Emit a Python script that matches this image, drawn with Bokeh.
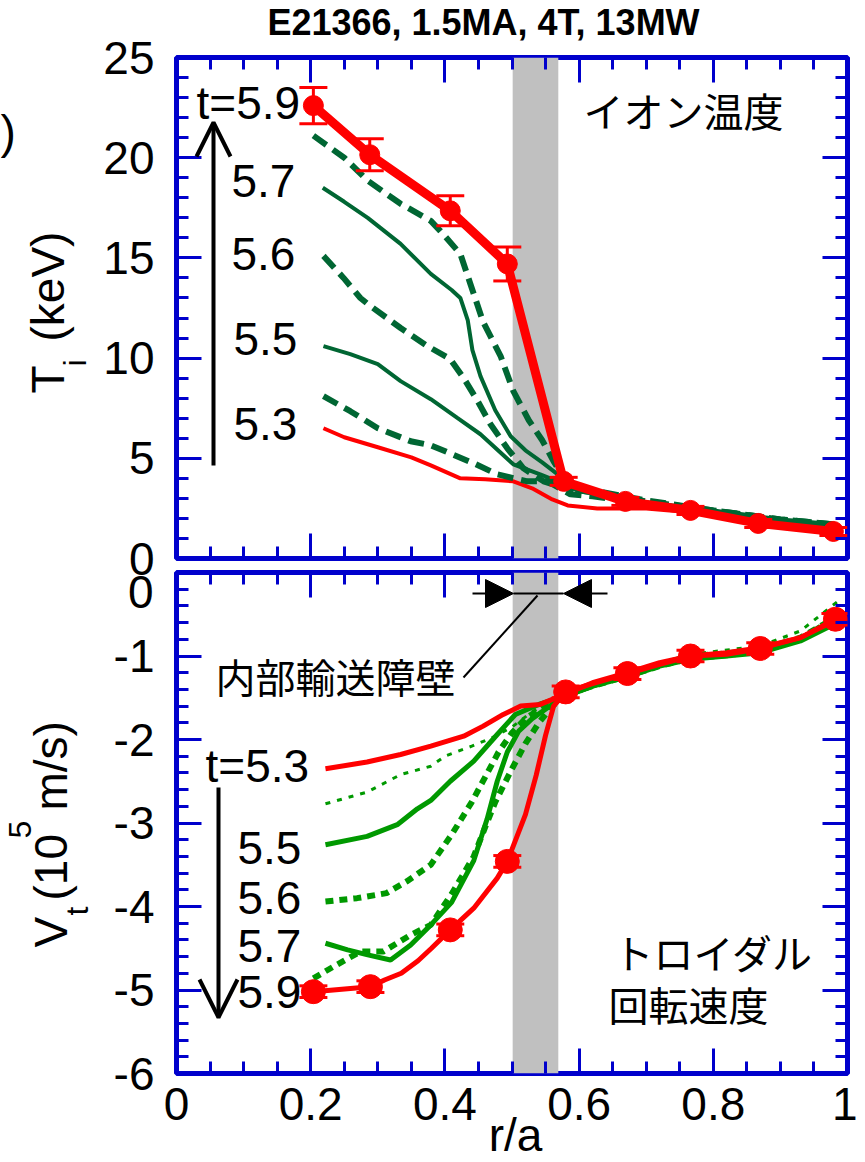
from math import pi
from bokeh.plotting import figure
from bokeh.models import (Range1d, FixedTicker, Label, Arrow, OpenHead, NormalHead,
                          TeeHead, Whisker, ColumnDataSource, BoxAnnotation, LinearAxis)
from bokeh.layouts import column
from bokeh.embed import file_html
from bokeh.resources import INLINE

# ---------------- data ----------------
title_text = "E21366, 1.5MA, 4T, 13MW"
x_ticks = [0, 0.2, 0.4, 0.6, 0.8, 1]
x_tick_labels = ["0", "0.2", "0.4", "0.6", "0.8", "1"]
ti_ticks = [0, 5, 10, 15, 20, 25]
ti_tick_labels = ["0", "5", "10", "15", "20", "25"]
vt_ticks = [-6, -5, -4, -3, -2, -1, 0]
vt_tick_labels = ["-6", "-5", "-4", "-3", "-2", "-1", ""]
vt_zero_label = "0"
itb_left, itb_right = 0.501, 0.569

# Ion temperature (keV)
ti59_x = [0.204, 0.288, 0.408, 0.493, 0.577, 0.669, 0.766, 0.867, 0.979]
ti59_y = [22.6, 20.15, 17.35, 14.7, 3.85, 2.85, 2.4, 1.75, 1.35]
ti59_err = [0.9, 0.8, 0.75, 0.85, 0.2, 0.2, 0.2, 0.2, 0.2]

ti58_x = [0.204, 0.25, 0.285, 0.334, 0.379, 0.393, 0.423, 0.438, 0.457, 0.483, 0.502, 0.525, 0.545, 0.562, 0.58, 0.62, 0.7, 0.8, 0.9, 0.98]
ti58_y = [21.1, 20.0, 18.85, 17.7, 16.85, 16.35, 15.2, 13.7, 11.8, 10.1, 8.35, 6.9, 5.9, 4.85, 3.9, 3.4, 2.9, 2.4, 1.95, 1.7]

ti57_x = [0.218, 0.25, 0.285, 0.334, 0.379, 0.41, 0.423, 0.434, 0.441, 0.453, 0.475, 0.498, 0.52, 0.545, 0.572, 0.6, 0.7, 0.8, 0.9, 0.98]
ti57_y = [18.5, 17.8, 17.0, 15.7, 14.2, 13.4, 13.0, 11.9, 10.4, 9.1, 7.4, 6.1, 5.4, 4.8, 4.1, 3.4, 2.8, 2.35, 1.9, 1.55]

ti56_x = [0.219, 0.249, 0.274, 0.285, 0.334, 0.374, 0.408, 0.428, 0.449, 0.468, 0.493, 0.517, 0.547, 0.58, 0.62, 0.7, 0.8, 0.9, 0.98]
ti56_y = [15.1, 14.0, 13.0, 12.7, 11.5, 10.6, 9.95, 9.0, 7.85, 6.7, 5.5, 4.5, 3.85, 3.5, 3.3, 2.85, 2.4, 1.95, 1.7]

ti55_x = [0.219, 0.259, 0.3, 0.334, 0.379, 0.419, 0.453, 0.502, 0.542, 0.568, 0.6, 0.7, 0.8, 0.9, 0.98]
ti55_y = [10.6, 10.2, 9.7, 8.85, 7.95, 7.0, 6.2, 4.7, 4.2, 3.85, 3.35, 2.8, 2.35, 1.9, 1.6]

ti54_x = [0.219, 0.259, 0.3, 0.349, 0.379, 0.443, 0.478, 0.523, 0.553, 0.587, 0.62, 0.7, 0.8, 0.9, 0.98]
ti54_y = [8.1, 7.35, 6.5, 5.85, 5.65, 4.75, 4.2, 3.85, 3.85, 3.2, 3.1, 2.75, 2.35, 1.9, 1.65]

ti53_x = [0.219, 0.25, 0.3, 0.35, 0.379, 0.423, 0.46, 0.502, 0.53, 0.56, 0.583, 0.627, 0.7, 0.77, 0.87, 0.98]
ti53_y = [6.5, 6.05, 5.55, 5.05, 4.65, 4.0, 3.95, 3.85, 3.5, 2.95, 2.65, 2.5, 2.5, 2.3, 1.75, 1.35]

ti_time_labels = ["t=5.9", "5.7", "5.6", "5.5", "5.3"]

# Toroidal rotation velocity (1e5 m/s)
vt59_x = [0.204, 0.289, 0.31, 0.335, 0.36, 0.38, 0.408, 0.443, 0.478, 0.493, 0.52, 0.536, 0.55, 0.562, 0.58, 0.62, 0.672, 0.72, 0.766, 0.82, 0.87, 0.93, 0.982]
vt59_y = [-5.02, -4.96, -4.88, -4.8, -4.65, -4.5, -4.28, -4.02, -3.66, -3.46, -2.9, -2.43, -1.95, -1.6, -1.43, -1.33, -1.21, -1.1, -1.0, -0.98, -0.91, -0.78, -0.56]
vt59_mx = [0.204, 0.289, 0.408, 0.493, 0.58, 0.672, 0.766, 0.87, 0.982]
vt59_my = [-5.02, -4.96, -4.28, -3.46, -1.43, -1.21, -1.0, -0.91, -0.56]
vt59_err = [0.07, 0.07, 0.07, 0.07, 0.07, 0.07, 0.07, 0.07, 0.07]

vt58_x = [0.204, 0.234, 0.274, 0.308, 0.349, 0.379, 0.41, 0.443, 0.46, 0.475, 0.5, 0.52, 0.54, 0.56, 0.58, 0.62, 0.672, 0.72, 0.766, 0.82, 0.87, 0.93, 0.98]
vt58_y = [-4.86, -4.72, -4.54, -4.54, -4.34, -4.22, -3.85, -3.4, -3.05, -2.75, -2.35, -2.05, -1.8, -1.6, -1.47, -1.36, -1.24, -1.12, -1.03, -0.99, -0.94, -0.8, -0.55]

vt57_x = [0.222, 0.255, 0.285, 0.319, 0.349, 0.379, 0.41, 0.443, 0.463, 0.478, 0.493, 0.51, 0.53, 0.56, 0.58, 0.62, 0.672, 0.72, 0.766, 0.82, 0.87, 0.93, 0.98]
vt57_y = [-4.44, -4.52, -4.58, -4.64, -4.46, -4.22, -3.95, -3.45, -2.95, -2.5, -2.15, -1.9, -1.75, -1.58, -1.48, -1.36, -1.25, -1.12, -1.04, -1.0, -0.96, -0.82, -0.62]

vt56_x = [0.222, 0.269, 0.313, 0.343, 0.379, 0.41, 0.44, 0.46, 0.48, 0.5, 0.52, 0.545, 0.575, 0.62, 0.672, 0.72, 0.766, 0.82, 0.87, 0.93, 0.98]
vt56_y = [-3.94, -3.9, -3.84, -3.7, -3.5, -3.14, -2.75, -2.45, -2.15, -1.92, -1.75, -1.62, -1.5, -1.35, -1.22, -1.1, -1.0, -0.97, -0.92, -0.78, -0.55]

vt55_x = [0.222, 0.284, 0.329, 0.359, 0.379, 0.408, 0.443, 0.478, 0.505, 0.54, 0.57, 0.62, 0.672, 0.72, 0.766, 0.82, 0.87, 0.93, 0.98]
vt55_y = [-3.26, -3.16, -3.02, -2.83, -2.73, -2.5, -2.26, -1.94, -1.7, -1.58, -1.5, -1.36, -1.23, -1.1, -1.02, -0.98, -0.95, -0.8, -0.6]

vt54_x = [0.222, 0.284, 0.334, 0.379, 0.4, 0.44, 0.47, 0.5, 0.528, 0.56, 0.6, 0.672, 0.766, 0.87, 0.93, 0.985]
vt54_y = [-2.77, -2.63, -2.42, -2.32, -2.2, -2.08, -1.98, -1.85, -1.68, -1.52, -1.38, -1.2, -0.98, -0.88, -0.7, -0.35]

vt53_x = [0.222, 0.284, 0.334, 0.379, 0.428, 0.457, 0.487, 0.513, 0.542, 0.572, 0.62, 0.672, 0.72, 0.766, 0.82, 0.87, 0.93, 0.98]
vt53_y = [-2.35, -2.27, -2.18, -2.08, -1.96, -1.84, -1.7, -1.6, -1.58, -1.48, -1.32, -1.2, -1.08, -1.0, -0.96, -0.9, -0.78, -0.58]

vt_time_labels = ["t=5.3", "5.5", "5.6", "5.7", "5.9"]

# ---------------- styles ----------------
FONT = "Liberation Sans"
JP = "Noto Sans CJK JP"
BLUE = "#0000cc"
RED = "#ff0000"
DKGREEN = "#006633"
GREEN = "#009900"
GRAY = "#c0c0c0"

W = 857
H1 = 590
OVERLAP = 24
H2 = 594
HTOT = H1 + H2 - OVERLAP

# frame geometry in page pixels
FL, FR = 176.0, 847.0
T_TOP, T_BOT = 57.0, 558.0
B_TOP, B_BOT = 572.0, 1073.0
S2 = H1 - OVERLAP


def top_xy(px, py):
    return (px - FL) / (FR - FL), (T_BOT - py) / (T_BOT - T_TOP) * 25.0


def bot_xy(px, py):
    return (px - FL) / (FR - FL), -6.0 + (B_BOT - py) / (B_BOT - B_TOP) * 6.0


def style_axis(ax, ticks, minor, labels=None, standoff=0):
    ax.ticker = FixedTicker(ticks=ticks, minor_ticks=minor)
    ax.axis_line_color = None
    ax.major_tick_line_color = BLUE
    ax.major_tick_line_width = 3
    ax.minor_tick_line_color = BLUE
    ax.minor_tick_line_width = 3
    ax.major_tick_in = 25
    ax.major_tick_out = 0
    ax.minor_tick_in = 12
    ax.minor_tick_out = 0
    if labels is not None:
        ax.major_label_text_font = FONT
        ax.major_label_text_font_size = "46px"
        ax.major_label_text_color = "black"
        ax.major_label_standoff = standoff
        ax.major_label_overrides = dict(zip(ticks, labels))
    else:
        ax.major_label_text_font_size = "0px"
        ax.major_label_text_alpha = 0
        ax.major_label_standoff = 0


x_minor = [round(i * 0.05, 2) for i in range(21)]
ti_minor = list(range(0, 26))
vt_minor = [round(-6 + 0.2 * i, 1) for i in range(31)]

# ---------------- top panel ----------------
p1 = figure(width=W, height=H1, x_range=Range1d(0, 1), y_range=Range1d(0, 25),
            output_backend="svg", toolbar_location=None,
            min_border_left=int(FL), min_border_right=int(W - FR), min_border_top=int(T_TOP),
            min_border_bottom=int(H1 - T_BOT))
p1.grid.visible = False
p1.outline_line_color = BLUE
p1.outline_line_width = 5
p1.add_layout(LinearAxis(), "above")
p1.add_layout(LinearAxis(), "right")
style_axis(p1.below[0], x_ticks, x_minor)
style_axis(p1.above[0], x_ticks, x_minor)
style_axis(p1.left[0], ti_ticks, ti_minor, ti_tick_labels, standoff=22)
style_axis(p1.right[0], ti_ticks, ti_minor)

p1.add_layout(BoxAnnotation(left=itb_left, right=itb_right, fill_color=GRAY,
                            fill_alpha=1, line_color=None, level="underlay"))

p1.line(ti53_x, ti53_y, line_color=RED, line_width=4)
p1.line(ti54_x, ti54_y, line_color=DKGREEN, line_width=6, line_dash="16 8")
p1.line(ti55_x, ti55_y, line_color=DKGREEN, line_width=4)
p1.line(ti56_x, ti56_y, line_color=DKGREEN, line_width=6, line_dash="16 8")
p1.line(ti57_x, ti57_y, line_color=DKGREEN, line_width=4)
p1.line(ti58_x, ti58_y, line_color=DKGREEN, line_width=6, line_dash="16 8")
p1.line(ti59_x, ti59_y, line_color=RED, line_width=9)
p1.scatter(ti59_x, ti59_y, size=20, color=RED)
src_ti = ColumnDataSource(dict(
    x=ti59_x,
    upper=[y + e for y, e in zip(ti59_y, ti59_err)],
    lower=[y - e for y, e in zip(ti59_y, ti59_err)]))
p1.add_layout(Whisker(base="x", upper="upper", lower="lower", source=src_ti,
                      dimension="height", line_color=RED, line_width=3,
                      upper_head=TeeHead(size=28, line_color=RED, line_width=3),
                      lower_head=TeeHead(size=28, line_color=RED, line_width=3),
                      level="annotation"))

ax0, ay0 = top_xy(213, 465)
ax1, ay1 = top_xy(213, 122)
p1.add_layout(Arrow(end=OpenHead(size=34, line_width=4, line_color="black"),
                    x_start=ax0, y_start=ay0, x_end=ax1, y_end=ay1,
                    line_width=4, line_color="black"))

# ---------------- bottom panel ----------------
p2 = figure(width=W, height=H2, x_range=Range1d(0, 1), y_range=Range1d(-6, 0),
            output_backend="svg", toolbar_location=None,
            min_border_left=int(FL), min_border_right=int(W - FR),
            min_border_top=int(B_TOP - S2), min_border_bottom=int(S2 + H2 - B_BOT),
            margin=(-OVERLAP, 0, 0, 0))
p2.border_fill_alpha = 0
p2.grid.visible = False
p2.outline_line_color = BLUE
p2.outline_line_width = 5
p2.add_layout(LinearAxis(), "above")
p2.add_layout(LinearAxis(), "right")
style_axis(p2.below[0], x_ticks, x_minor, x_tick_labels, standoff=14)
style_axis(p2.above[0], x_ticks, x_minor)
style_axis(p2.left[0], vt_ticks, vt_minor, vt_tick_labels, standoff=22)
style_axis(p2.right[0], vt_ticks, vt_minor)

p2.add_layout(BoxAnnotation(left=itb_left, right=itb_right, fill_color=GRAY,
                            fill_alpha=1, line_color=None, level="underlay"))

p2.line(vt54_x, vt54_y, line_color=GREEN, line_width=3, line_dash="5 7")
p2.line(vt55_x, vt55_y, line_color=GREEN, line_width=5)
p2.line(vt56_x, vt56_y, line_color=GREEN, line_width=6, line_dash="8 6")
p2.line(vt57_x, vt57_y, line_color=GREEN, line_width=5)
p2.line(vt58_x, vt58_y, line_color=GREEN, line_width=6, line_dash="8 6")
p2.line(vt53_x, vt53_y, line_color=RED, line_width=5)
p2.line(vt59_x, vt59_y, line_color=RED, line_width=5)
src_vt = ColumnDataSource(dict(
    x=vt59_mx,
    upper=[y + e for y, e in zip(vt59_my, vt59_err)],
    lower=[y - e for y, e in zip(vt59_my, vt59_err)]))
p2.add_layout(Whisker(base="x", upper="upper", lower="lower", source=src_vt,
                      dimension="height", line_color=RED, line_width=3,
                      upper_head=TeeHead(size=28, line_color=RED, line_width=3),
                      lower_head=TeeHead(size=28, line_color=RED, line_width=3),
                      level="glyph"))
p2.scatter(vt59_mx, vt59_my, size=24, color=RED)

bx0, by0 = bot_xy(218, 787)
bx1, by1 = bot_xy(218, 1017)
p2.add_layout(Arrow(end=OpenHead(size=38, line_width=4, line_color="black"),
                    x_start=bx0, y_start=by0, x_end=bx1, y_end=by1,
                    line_width=4, line_color="black"))

# ITB marker
l0 = bot_xy(472, 593)
l1 = bot_xy(513, 593)
r0 = bot_xy(607, 593)
r1 = bot_xy(563, 593)
p2.add_layout(Arrow(end=NormalHead(size=28, fill_color="black", line_color="black"),
                    x_start=l0[0], y_start=l0[1], x_end=l1[0], y_end=l1[1],
                    line_width=2, line_color="black"))
p2.add_layout(Arrow(end=NormalHead(size=28, fill_color="black", line_color="black"),
                    x_start=r0[0], y_start=r0[1], x_end=r1[0], y_end=r1[1],
                    line_width=2, line_color="black"))
p2.add_layout(Arrow(end=None, x_start=l1[0], y_start=l1[1], x_end=r1[0], y_end=r1[1],
                    line_width=2, line_color="black"))
c0 = bot_xy(463, 677)
c1 = bot_xy(537, 595)
p2.add_layout(Arrow(end=None, x_start=c0[0], y_start=c0[1], x_end=c1[0], y_end=c1[1],
                    line_width=2, line_color="black"))

# ---------------- transparent text overlay (separate root, page-pixel coordinates) ----------------
p3 = figure(width=W, height=HTOT, x_range=Range1d(0, W), y_range=Range1d(HTOT, 0),
            output_backend="svg", toolbar_location=None,
            x_axis_type=None, y_axis_type=None,
            min_border_left=0, min_border_right=0, min_border_top=0, min_border_bottom=0,
            margin=(-HTOT, 0, 0, 0))
p3.grid.visible = False
p3.outline_line_color = None
p3.background_fill_alpha = 0
p3.border_fill_alpha = 0


def page_text(px, py, text, size, font=FONT, align="left", angle=0.0, style="normal"):
    p3.add_layout(Label(x=px, y=py, text=text, text_font=font,
                        text_font_size=f"{size}px", text_align=align,
                        text_baseline="middle", angle=angle,
                        text_color="black", text_font_style=style))


page_text(483, 22, title_text, 36, align="center", style="bold")

for (px, py), txt in zip([(196, 102), (231, 180), (231, 253), (233, 338), (233, 423)],
                         ti_time_labels):
    page_text(px, py, txt, 46)
page_text(583, 109, "イオン温度", 40, font=JP)

for (px, py), txt in zip([(205, 765), (237, 847), (237, 897), (237, 945), (237, 991)],
                         vt_time_labels):
    page_text(px, py, txt, 46)
page_text(613, 951, "トロイダル", 40, font=JP)
page_text(608, 1003, "回転速度", 40, font=JP)
page_text(215, 675, "内部輸送障壁", 40, font=JP)

page_text(153, 591, vt_zero_label, 46, align="right")
page_text(0, 131, ")", 46)

# axis titles (rotated, reading upwards)
page_text(47, 393, "T", 46, angle=pi / 2)
page_text(74, 366, "i", 32, angle=pi / 2)
page_text(47, 341, "(keV)", 46, angle=pi / 2)

page_text(50, 947, "V", 46, angle=pi / 2)
page_text(76, 915, "t", 32, angle=pi / 2)
page_text(50, 900, "(10", 46, angle=pi / 2)
page_text(19, 838, "5", 32, angle=pi / 2)
page_text(50, 810, "m/s)", 46, angle=pi / 2)

page_text(515, 1134, "r/a", 46, align="center")

layout = column(p1, p2)
open("out.html", "w").write(file_html([layout, p3], INLINE))
